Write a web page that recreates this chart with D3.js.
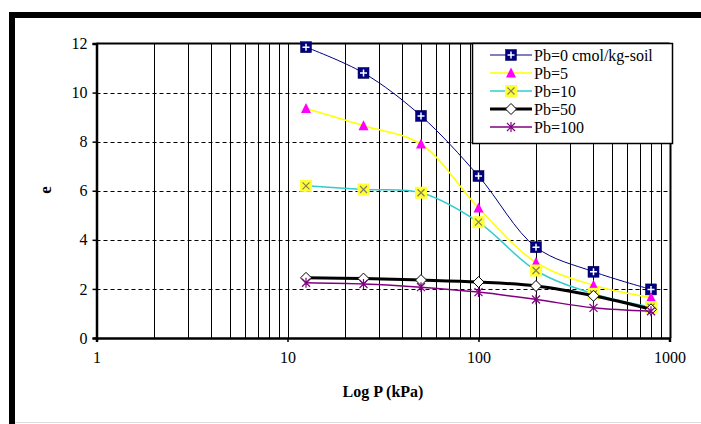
<!DOCTYPE html>
<html>
<head>
<meta charset="utf-8">
<script src="https://d3js.org/d3.v7.min.js"></script>
<style>
  body { margin: 0; background: #fff; }
</style>
</head>
<body>
<script>
// pressure steps (kPa)
const pressures = [12.5, 25, 50, 100, 200, 400, 800];

// void ratio per Pb content
const pb0   = [11.85, 10.8, 9.05, 6.6, 3.7, 2.7, 1.98];
const pb5   = [9.35, 8.65, 7.9, 5.3, 3.08, 2.15, 1.65];
const pb10  = [6.2, 6.05, 5.92, 4.72, 2.75, 1.8, 1.26];
const pb50  = [2.45, 2.42, 2.36, 2.28, 2.12, 1.72, 1.17];
const pb100 = [2.25, 2.2, 2.07, 1.87, 1.57, 1.23, 1.09];

const seriesNames = ["Pb=0 cmol/kg-soil", "Pb=5", "Pb=10", "Pb=50", "Pb=100"];
const xTicks = [1, 10, 100, 1000];
const yTicks = [0, 2, 4, 6, 8, 10, 12];

const width = 701, height = 424;
const plotL = 96.5, plotR = 669.5, plotT = 43.5, plotB = 338;
const serif = "'Liberation Serif', 'Times New Roman', serif";

const svg = d3.select("body").append("svg")
  .attr("width", width)
  .attr("height", height);

// outer frame
svg.append("rect").attr("x", 9).attr("y", 12).attr("width", 692).attr("height", 6).attr("fill", "#000");
svg.append("rect").attr("x", 9).attr("y", 12).attr("width", 6).attr("height", 412).attr("fill", "#000");
svg.append("line").attr("x1", 15).attr("x2", 701).attr("y1", 422.5).attr("y2", 422.5)
  .attr("stroke", "#ddd");

const x = d3.scaleLog().domain([1, 1000]).range([plotL, plotR]);
const y = d3.scaleLinear().domain([0, 12]).range([plotB, plotT]);

// vertical grid, every 1..9 per decade
let vgrid = [];
for (let d = 1; d < 1000; d *= 10) {
  for (let k = 2; k <= 10; k++) vgrid.push(d * k);
}
svg.append("g").selectAll("line")
  .data(vgrid)
  .join("line")
    .attr("x1", d => Math.round(x(d)) + 0.5)
    .attr("x2", d => Math.round(x(d)) + 0.5)
    .attr("y1", plotT)
    .attr("y2", plotB)
    .attr("stroke", "#000")
    .attr("stroke-width", d => (d === 1000 ? 2 : 1));

// horizontal dashed grid
svg.append("g").selectAll("line")
  .data(yTicks.filter(v => v > 0 && v < 12))
  .join("line")
    .attr("x1", plotL)
    .attr("x2", plotR)
    .attr("y1", d => Math.round(y(d)) + 0.5)
    .attr("y2", d => Math.round(y(d)) + 0.5)
    .attr("stroke", "#000")
    .attr("stroke-dasharray", "4,3");

// top border of plot
svg.append("line").attr("x1", plotL).attr("x2", plotR).attr("y1", plotT).attr("y2", plotT)
  .attr("stroke", "#000").attr("stroke-width", 2);

// axes
const yAxis = svg.append("g")
  .attr("transform", `translate(${plotL},0)`)
  .call(d3.axisLeft(y).tickValues(yTicks).tickSize(4).tickPadding(5));
const xAxis = svg.append("g")
  .attr("transform", `translate(0,${plotB})`)
  .call(d3.axisBottom(x).tickValues(xTicks).tickFormat(d3.format("d")).tickSize(4).tickPadding(10));

[yAxis, xAxis].forEach(a => {
  a.attr("font-family", serif).attr("font-size", 16);
  a.select(".domain").attr("stroke-width", 2.5);
  a.selectAll(".tick line").attr("stroke-width", 1.5);
  a.selectAll("text").attr("fill", "#000");
});

// axis titles
svg.append("text")
  .attr("x", 383).attr("y", 397)
  .attr("text-anchor", "middle")
  .attr("font-family", serif)
  .attr("font-size", 16).attr("font-weight", "bold")
  .text("Log P (kPa)");
svg.append("text")
  .attr("transform", "translate(51,190) rotate(-90)")
  .attr("text-anchor", "middle")
  .attr("font-family", serif)
  .attr("font-size", 17).attr("font-weight", "bold")
  .text("e");

// marker painters
function markSquarePlus(g) {
  g.append("rect").attr("x", -5.5).attr("y", -5.5).attr("width", 11).attr("height", 11)
    .attr("fill", "#000080").attr("stroke", "#000040").attr("stroke-width", 0.5);
  g.append("path").attr("d", "M-3.5,0H3.5M0,-3.5V3.5").attr("stroke", "#fff").attr("stroke-width", 1.5);
}
function markTriangle(g) {
  g.append("path").attr("d", "M0,-5.5L5,4.5L-5,4.5Z").attr("fill", "#ff00ff");
}
function markSquareX(g) {
  g.append("rect").attr("x", -6).attr("y", -6).attr("width", 12).attr("height", 12)
    .attr("fill", "#ffff33");
  g.append("path").attr("d", "M-3.5,-3.5L3.5,3.5M-3.5,3.5L3.5,-3.5")
    .attr("stroke", "#808060").attr("stroke-width", 1.2);
}
function markDiamond(g) {
  g.append("path").attr("d", "M0,-5.5L5.5,0L0,5.5L-5.5,0Z")
    .attr("fill", "#fff").attr("stroke", "#000").attr("stroke-width", 1);
}
function markStar(g) {
  g.append("path").attr("d", "M-4,-4L4,4M-4,4L4,-4M0,-5V5")
    .attr("stroke", "#800080").attr("stroke-width", 1.2);
}

const series = [
  { values: pb0,   color: "#000080", lw: 1,   mark: markSquarePlus },
  { values: pb5,   color: "#ffff00", lw: 1.5, mark: markTriangle },
  { values: pb10,  color: "#33cccc", lw: 1.5, mark: markSquareX },
  { values: pb50,  color: "#000000", lw: 3,   mark: markDiamond },
  { values: pb100, color: "#800080", lw: 1.5, mark: markStar }
];

const line = d3.line()
  .x(d => x(d[0]))
  .y(d => y(d[1]))
  .curve(d3.curveCatmullRom.alpha(0.5));

series.forEach(s => {
  const pts = pressures.map((p, i) => [p, s.values[i]]);
  svg.append("path")
    .datum(pts)
    .attr("d", line)
    .attr("fill", "none")
    .attr("stroke", s.color)
    .attr("stroke-width", s.lw);
  pts.forEach(p => {
    const g = svg.append("g").attr("transform", `translate(${x(p[0])},${y(p[1])})`);
    s.mark(g);
  });
});

// legend
const lg = svg.append("g");
lg.append("rect")
  .attr("x", 472.5).attr("y", 43.5).attr("width", 200).attr("height", 100)
  .attr("fill", "#fff").attr("stroke", "#000").attr("stroke-width", 1.5);
series.forEach((s, i) => {
  const yy = 55 + i * 18;
  lg.append("line").attr("x1", 490).attr("x2", 532).attr("y1", yy).attr("y2", yy)
    .attr("stroke", s.color).attr("stroke-width", s.lw);
  s.mark(lg.append("g").attr("transform", `translate(511,${yy})`));
  lg.append("text")
    .attr("x", 534).attr("y", yy + 5.5)
    .attr("font-family", serif)
    .attr("font-size", 16)
    .text(seriesNames[i]);
});
</script>
</body>
</html>
